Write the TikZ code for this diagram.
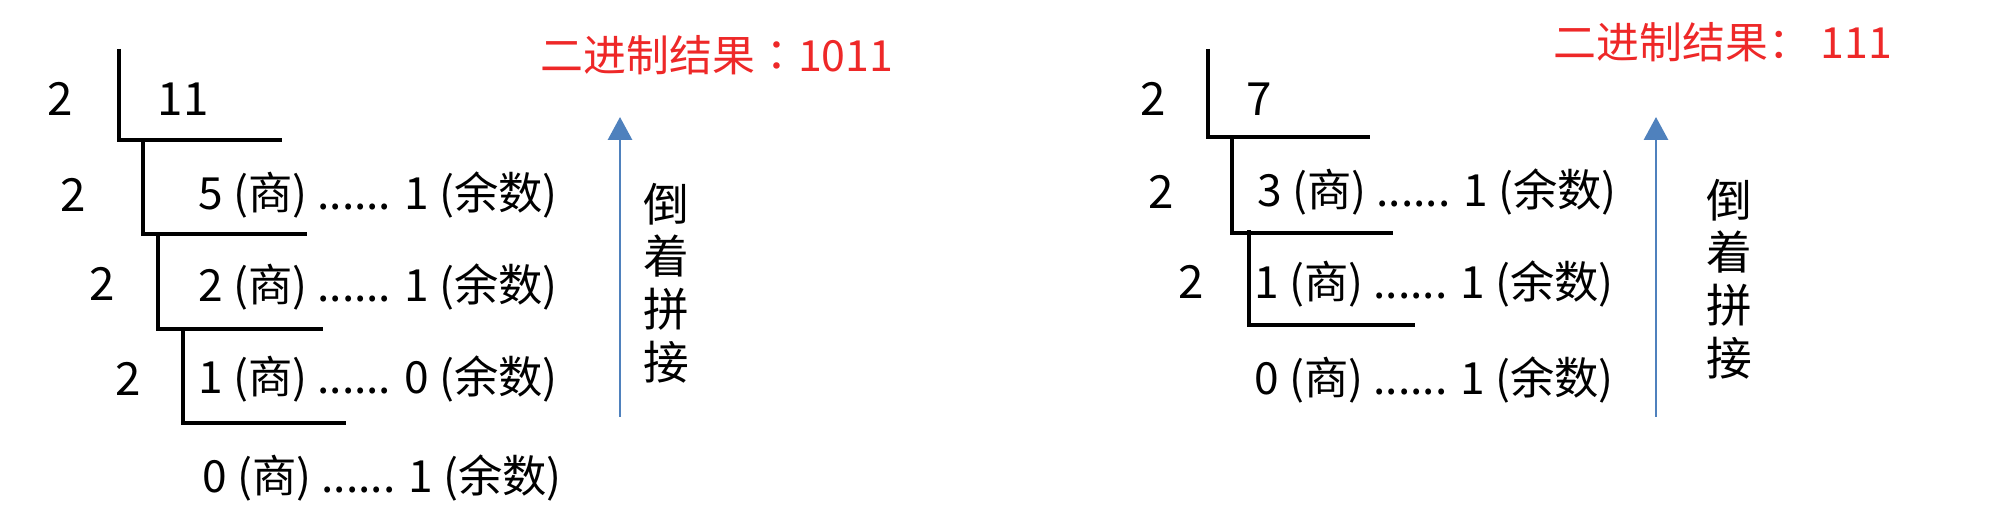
\documentclass[tikz,border=0pt]{standalone}
\usepackage{fontspec}
\newfontfamily\cjk{Noto Sans CJK SC}
\newfontfamily\cjktc{Noto Sans CJK TC}
\usetikzlibrary{arrows.meta}

\definecolor{arrowblue}{RGB}{79,129,189}
\definecolor{resultred}{RGB}{238,40,40}

\begin{document}
\begin{tikzpicture}[x=0.01cm, y=-0.01cm,
    divline/.style={line width=1pt},
    digit/.style={font=\cjk\fontsize{13}{16}\selectfont, inner sep=0pt},
    rowtext/.style={font=\cjk\fontsize{12.6}{16}\selectfont, inner sep=0pt, anchor=west},
    result/.style={font=\cjk\fontsize{12.2}{16}\selectfont, text=resultred, anchor=west, inner sep=0pt},
    backarrow/.style={-{Triangle[width=6.8pt,length=6.5pt]}, line width=0.8pt, arrowblue},
    backtext/.style={font=\cjk\fontsize{13}{15}\selectfont, align=center, inner sep=0pt}]

    % Fix the size of the picture
    \useasboundingbox (0,0) rectangle (2008,528);

    % ---- Left: 11 in binary ----
    % Corners of the division brackets
    \coordinate (LA0) at (119,49);
    \coordinate (LA1) at (282,140);
    \coordinate (LB0) at (143,140);
    \coordinate (LB1) at (307,234);
    \coordinate (LC0) at (158,234);
    \coordinate (LC1) at (323,329);
    \coordinate (LD0) at (183,329);
    \coordinate (LD1) at (346,423);

    % Draw the brackets
    \draw[divline] (LA0) |- (LA1);
    \draw[divline] (LB0) |- (LB1);
    \draw[divline] (LC0) |- (LC1);
    \draw[divline] (LD0) |- (LD1);

    % Divisors and dividend
    \node[digit] (ldivA) at (60,99) {2};
    \node[digit] (lnum) at (183,99) {11};
    \node[digit] (ldivB) at (73,195) {2};
    \node[digit] (ldivC) at (102,284) {2};
    \node[digit] (ldivD) at (128,379) {2};

    % Quotients and remainders
    \node[rowtext] (lrowA) at (198,195) {5 (商) ...... 1 (余数)};
    \node[rowtext] (lrowB) at (198,287) {2 (商) ...... 1 (余数)};
    \node[rowtext] (lrowC) at (198,379) {1 (商) ...... 0 (余数)};
    \node[rowtext] (lrowD) at (202,478) {0 (商) ...... 1 (余数)};

    % Read upwards
    \coordinate (LUp0) at (620,417);
    \coordinate (LUp1) at (620,117);
    \draw[backarrow] (LUp0) -- (LUp1);
    \node[backtext] (lback) at (666,283) {倒\\着\\拼\\接};

    % Result
    \node[result] (lres) at (540,55) {二进制结果{\cjktc ：}1011};

    % ---- Right: 7 in binary ----
    \coordinate (RA0) at (1208,49);
    \coordinate (RA1) at (1370,137);
    \coordinate (RB0) at (1232,137);
    \coordinate (RB1) at (1393,233);
    \coordinate (RC0) at (1249,230);
    \coordinate (RC1) at (1415,325);

    % Draw the brackets
    \draw[divline] (RA0) |- (RA1);
    \draw[divline] (RB0) |- (RB1);
    \draw[divline] (RC0) |- (RC1);

    % Divisors and dividend
    \node[digit] (rdivA) at (1153,99) {2};
    \node[digit] (rnum) at (1259,99) {7};
    \node[digit] (rdivB) at (1161,192) {2};
    \node[digit] (rdivC) at (1191,282) {2};

    % Quotients and remainders
    \node[rowtext] (rrowA) at (1257,192) {3 (商) ...... 1 (余数)};
    \node[rowtext] (rrowB) at (1254,284) {1 (商) ...... 1 (余数)};
    \node[rowtext] (rrowC) at (1254,380) {0 (商) ...... 1 (余数)};

    % Read upwards
    \coordinate (RUp0) at (1656,417);
    \coordinate (RUp1) at (1656,117);
    \draw[backarrow] (RUp0) -- (RUp1);
    \node[backtext] (rback) at (1729,279) {倒\\着\\拼\\接};

    % Result
    \node[result] (rres) at (1553,42) {二进制结果：\ 111};

\end{tikzpicture}
\end{document}
